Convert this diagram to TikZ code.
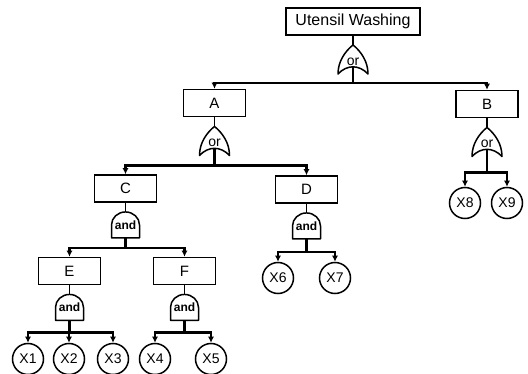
\documentclass[tikz,border=0pt]{standalone}
\usepackage{fontspec}
\setmainfont{Liberation Sans}
\usetikzlibrary{positioning,arrows.meta}

\begin{document}
\begin{tikzpicture}[x=1pt, y=1pt, node distance=9pt,
  event/.style={draw, line width=1.5pt, minimum width=62pt, minimum height=27pt, inner sep=0pt, font=\fontsize{15}{18}\selectfont},
  basic/.style={draw, circle, line width=1.5pt, minimum size=31pt, inner sep=0pt, font=\fontsize{14}{16}\selectfont},
  orgate/.style={minimum width=30pt, minimum height=29pt, inner sep=0pt, text height=12pt, text depth=0pt, font=\fontsize{14}{16}\selectfont},
  andgate/.style={minimum width=28pt, minimum height=26pt, inner sep=0pt, font=\bfseries\fontsize{12}{14}\selectfont},
  outline/.style={line width=1.5pt, line join=round},
  stem/.style={line width=2.4pt},
  feed/.style={line width=2.4pt, -{Latex[length=6pt,width=6pt]}}]

  \useasboundingbox (0,0) rectangle (528,-374);

  % events
  \node[event, minimum width=134pt, font=\fontsize{16}{18}\selectfont] (top) at (353,-21.5) {Utensil Washing};
  \node[event] (A) at (214.5,-103) {A};
  \node[event] (B) at (487,-104) {B};
  \node[event] (C) at (125.5,-188.5) {C};
  \node[event] (D) at (306.5,-189.5) {D};
  \node[event] (E) at (69.5,-271) {E};
  \node[event] (F) at (184.5,-271) {F};

  % gates
  \node[orgate, below=of top] (g0) {or};
  \node[orgate, below=of A] (gA) {or};
  \node[orgate, below=of B] (gB) {or};
  \node[andgate, below=of C] (gC) {and};
  \node[andgate, below=of D] (gD) {and};
  \node[andgate, below=of E] (gE) {and};
  \node[andgate, below=of F] (gF) {and};

  % basic events
  \node[basic] (X1) at (28,-359) {X1};
  \node[basic] (X2) at (69,-359) {X2};
  \node[basic] (X3) at (113,-359) {X3};
  \node[basic] (X4) at (155,-359) {X4};
  \node[basic] (X5) at (211,-359) {X5};
  \node[basic] (X6) at (278,-278) {X6};
  \node[basic] (X7) at (335,-278) {X7};
  \node[basic] (X8) at (465,-203) {X8};
  \node[basic] (X9) at (507,-203) {X9};

  \foreach \g in {g0,gA,gB}
    \draw[outline, shift={(\g.center)}] (-15,-14.5) .. controls (-6,-5) and (6,-5) .. (15,-14.5)
      .. controls (15,-2) and (8,8) .. (0,14.5) .. controls (-8,8) and (-15,-2) .. cycle;
  \foreach \g in {gC,gD,gE,gF}
    \draw[outline, shift={(\g.center)}] (-14,-13) -- (14,-13) -- (14,0)
      arc[start angle=0, end angle=180, x radius=14pt, y radius=13pt] -- cycle;

  \foreach \b/\g in {top/g0, A/gA, B/gB, C/gC, D/gD, E/gE, F/gF}
    \draw[outline] (\b.south) -- (\g.north);

  \foreach \g/\s/\d in {g0/7/16, gA/7/17, gB/7/23, gC/0/10, gD/0/13, gE/0/12, gF/0/12}
    \draw[stem] ([yshift=\s pt]\g.south) -- ++(0,-\d) coordinate (\g bar);

  \foreach \g/\c in {g0/A, g0/B, gA/C, gA/D, gB/X8, gB/X9, gC/E, gC/F, gD/X6, gD/X7,
                     gE/X1, gE/X2, gE/X3, gF/X4, gF/X5}
    \draw[feed] (\g bar) -| (\c.north);

\end{tikzpicture}
\end{document}
